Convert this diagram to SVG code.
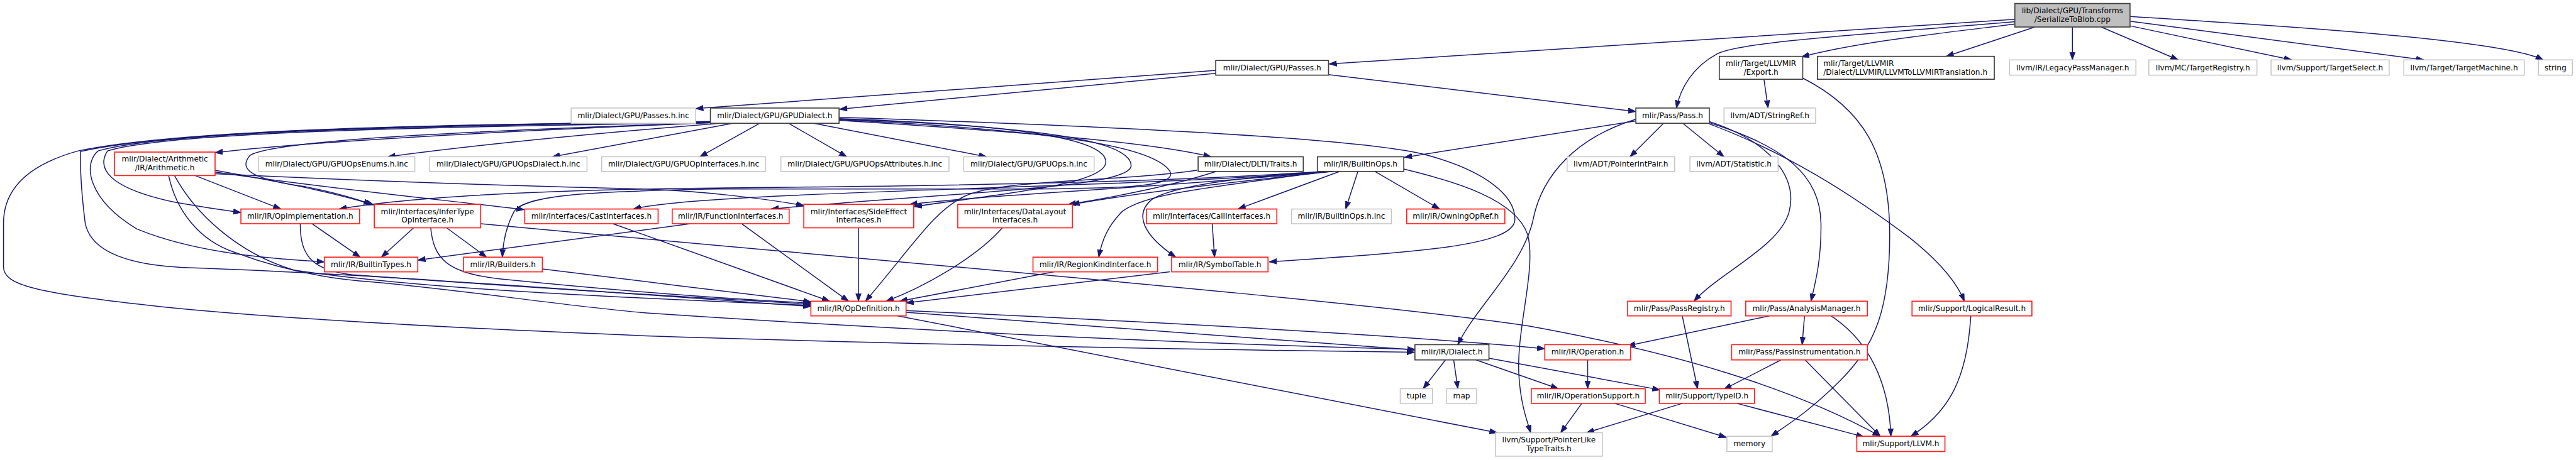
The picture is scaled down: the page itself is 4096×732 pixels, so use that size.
<svg xmlns="http://www.w3.org/2000/svg" width="4096" height="732" viewBox="0 0 4096 732">
<defs>
<style>
.n rect{fill:#fff;stroke-width:1.8}
.gy rect{stroke:#c4c4c4;stroke-width:1.6}
.rd rect{stroke:#ff2020}
.bk rect{stroke:#404040}
.rt rect{fill:#bfbfbf;stroke:#404040}
.n text{font-family:'DejaVu Sans',sans-serif;font-size:13px;text-anchor:middle;fill:#000}
.n text.l{text-anchor:start}
#edges path{fill:none;stroke:#191970;stroke-width:1.6;marker-end:url(#ah)}
</style>
<marker id="ah" markerUnits="userSpaceOnUse" markerWidth="14" markerHeight="11" refX="13" refY="5" orient="auto">
<path d="M0,0.4 L13,5 L0,9.6 z" fill="#191970" stroke="#191970" stroke-width="1"/>
</marker>
</defs>
<rect width="4096" height="732" fill="#fff"/>
<g transform="scale(0.93431)">
<g id="edges">
<path d="M3429,33 L2262,109"/>
<path d="M3429,37 C3150,60 2960,72 2922,92 C2880,115 2860,150 2853,184"/>
<path d="M3429,41 C3300,57 3160,72 3066,97"/>
<path d="M3463,46 L3312,96"/>
<path d="M3527,46 L3527,102"/>
<path d="M3576,46 L3707,102"/>
<path d="M3625,44 L3900,102"/>
<path d="M3625,36 L4125,102"/>
<path d="M3625,28 C3900,45 4260,68 4328,102"/>
<path d="M2069,120 L1184,185"/>
<path d="M2069,125 L1429,186"/>
<path d="M2261,127 L2784,190"/>
<path d="M3002,135 L3009,184"/>
<path d="M3068,133 C3170,185 3216,260 3216,400 C3216,530 3190,590 3130,650 C3080,700 3040,725 3014,743"/>
<path d="M2784,206 L2390,268"/>
<path d="M2831,210 L2774,267"/>
<path d="M2864,210 L2934,267"/>
<path d="M2784,203 C2680,235 2625,300 2610,370 C2595,450 2510,525 2481,587"/>
<path d="M2909,207 C3010,240 3060,300 3045,360 C3030,420 2925,465 2883,513"/>
<path d="M2909,209 C3040,250 3098,300 3099,380 C3100,440 3090,480 3082,513"/>
<path d="M2909,211 C3040,260 3150,330 3250,405 C3300,445 3330,480 3343,513"/>
<path d="M1209,209 C900,222 560,238 366,260"/>
<path d="M1225,210 C1000,228 800,248 660,267"/>
<path d="M1247,210 L940,267"/>
<path d="M1293,210 L1191,267"/>
<path d="M1342,210 L1441,267"/>
<path d="M1385,210 L1679,267"/>
<path d="M1428,205 C1700,222 1950,240 2061,267"/>
<path d="M1428,200 C1900,215 2300,235 2420,262 C2530,290 2580,335 2578,375 C2575,420 2400,430 2160,446"/>
<path d="M1428,202 C1720,212 1880,235 1882,275 C1884,315 1700,330 1556,352"/>
<path d="M1428,203 C1770,215 1925,240 1925,282 C1925,322 1600,328 1312,356"/>
<path d="M1428,204 C1800,222 1960,250 1990,290 C2010,320 1900,322 1700,322 L1220,322 C1000,326 895,332 875,360 C862,385 856,410 855,438"/>
<path d="M1209,207 C700,212 300,222 133,257 C50,280 6,320 6,380 L6,455 C6,485 60,500 281,523 C500,545 800,560 1100,572 C1500,585 2000,595 2407,600"/>
<path d="M1209,207 C700,213 300,222 137,258 C136,300 140,340 145,380 C155,430 220,452 320,456 C600,465 1000,495 1380,522"/>
<path d="M1209,208 C700,214 280,224 167,257 C140,280 150,340 233,390 C330,430 450,440 552,446"/>
<path d="M1209,209 C700,216 280,226 183,257 C165,285 180,320 300,345 C340,352 380,358 410,362"/>
<path d="M1209,209 C900,220 470,235 425,265 C405,290 430,305 520,318 C570,328 610,340 632,348"/>
<path d="M332,299 L478,356"/>
<path d="M366,290 C450,305 560,325 636,349"/>
<path d="M366,293 C550,320 750,340 892,357"/>
<path d="M366,296 C700,312 1000,320 1100,322 C1200,326 1300,338 1368,350"/>
<path d="M287,299 C300,360 340,410 400,430 C480,460 560,475 631,480 C800,495 950,520 1100,533 C1500,560 2000,585 2408,595"/>
<path d="M297,299 C330,360 400,430 500,460 C700,490 1000,505 1380,520"/>
<path d="M511,381 C511,430 525,460 600,468 C900,490 1150,505 1380,518"/>
<path d="M531,381 L613,438"/>
<path d="M704,388 L649,438"/>
<path d="M733,388 C738,440 760,465 850,475 C1050,495 1250,510 1380,516"/>
<path d="M760,388 L828,438"/>
<path d="M818,381 C1500,445 2300,510 2600,555 C2850,600 3050,660 3200,743"/>
<path d="M1043,381 L1412,513"/>
<path d="M1175,381 L711,443"/>
<path d="M1262,381 L1444,513"/>
<path d="M1461,388 L1461,513"/>
<path d="M1706,388 C1660,440 1570,490 1508,513"/>
<path d="M2070,292 C1990,318 1900,335 1818,348"/>
<path d="M2037,290 C1900,310 1700,305 1640,335 C1590,360 1560,410 1473,513"/>
<path d="M2280,292 L2107,356"/>
<path d="M2311,292 L2290,356"/>
<path d="M2340,292 L2450,356"/>
<path d="M2262,291 C1900,318 1300,318 1100,322 C900,326 700,335 577,356"/>
<path d="M2264,292 C1900,322 1200,325 1078,356"/>
<path d="M2266,292 C1900,325 1700,330 1548,348"/>
<path d="M2268,292 C2000,320 1900,335 1824,348"/>
<path d="M2258,292 C2050,320 1950,330 1910,360 C1885,385 1875,410 1870,438"/>
<path d="M2270,292 C2100,300 1990,320 1960,340 C1930,365 1945,400 2001,438"/>
<path d="M2389,288 C2480,310 2580,340 2600,400 C2615,460 2580,560 2585,640 C2588,690 2600,720 2605,737"/>
<path d="M2063,381 L2067,438"/>
<path d="M1794,463 L1531,513"/>
<path d="M1991,463 L1542,516"/>
<path d="M923,458 C1050,475 1250,497 1380,514"/>
<path d="M1542,529 C2000,550 2400,572 2629,594"/>
<path d="M1542,532 C2000,568 2250,585 2408,596"/>
<path d="M1528,538 L2548,737"/>
<path d="M2460,613 L2422,662"/>
<path d="M2474,613 L2481,662"/>
<path d="M2512,613 L2652,662"/>
<path d="M2534,610 L2825,664"/>
<path d="M2702,613 L2702,662"/>
<path d="M2692,687 L2656,737"/>
<path d="M2748,687 L2938,745"/>
<path d="M2863,687 L2700,737"/>
<path d="M2956,687 L3172,744"/>
<path d="M2863,538 L2889,662"/>
<path d="M3011,538 L2770,589"/>
<path d="M3071,538 L3067,587"/>
<path d="M3116,538 C3180,580 3215,650 3218,743"/>
<path d="M3031,613 L2934,663"/>
<path d="M3072,613 L3200,743"/>
<path d="M3354,538 C3348,640 3320,700 3252,743"/>
</g>
<g id="root" class="n rt"><rect x="3429" y="6" width="196" height="40"/><text x="3527" y="22.5">lib/Dialect/GPU/Transforms</text><text x="3527" y="37">/SerializeToBlob.cpp</text></g>
<g id="passes" class="n bk"><rect x="2069" y="103" width="192" height="25"/><text x="2165" y="120">mlir/Dialect/GPU/Passes.h</text></g>
<g id="export" class="n bk"><rect x="2926" y="96" width="142" height="39"/><text x="2997" y="112.5">mlir/Target/LLVMIR</text><text x="2997" y="127">/Export.h</text></g>
<g id="llvmtr" class="n bk"><rect x="3093" y="96" width="301" height="39"/><text class="l" x="3103" y="112.5">mlir/Target/LLVMIR</text><text class="l" x="3103" y="127">/Dialect/LLVMIR/LLVMToLLVMIRTranslation.h</text></g>
<g id="legacy" class="n gy"><rect x="3420" y="102" width="215" height="26"/><text x="3527.5" y="119.5">llvm/IR/LegacyPassManager.h</text></g>
<g id="treg" class="n gy"><rect x="3657" y="102" width="184" height="26"/><text x="3749" y="119.5">llvm/MC/TargetRegistry.h</text></g>
<g id="tsel" class="n gy"><rect x="3865" y="102" width="201" height="26"/><text x="3965.5" y="119.5">llvm/Support/TargetSelect.h</text></g>
<g id="tmach" class="n gy"><rect x="4091" y="102" width="205" height="26"/><text x="4193.5" y="119.5">llvm/Target/TargetMachine.h</text></g>
<g id="string" class="n gy"><rect x="4320" y="102" width="58" height="26"/><text x="4349" y="119.5">string</text></g>
<g id="passesinc" class="n gy"><rect x="972" y="184" width="212" height="26"/><text x="1078" y="201.5">mlir/Dialect/GPU/Passes.h.inc</text></g>
<g id="gpudialect" class="n bk"><rect x="1209" y="184" width="219" height="26"/><text x="1318.5" y="201.5">mlir/Dialect/GPU/GPUDialect.h</text></g>
<g id="pass" class="n bk"><rect x="2784" y="184" width="125" height="26"/><text x="2846.5" y="201.5">mlir/Pass/Pass.h</text></g>
<g id="stringref" class="n gy"><rect x="2934" y="184" width="156" height="26"/><text x="3012" y="201.5">llvm/ADT/StringRef.h</text></g>
<g id="arith" class="n rd"><rect x="195" y="259" width="171" height="40"/><text x="280.5" y="275.5">mlir/Dialect/Arithmetic</text><text x="280.5" y="290">/IR/Arithmetic.h</text></g>
<g id="enums" class="n gy"><rect x="440" y="267" width="266" height="25"/><text x="573" y="283.5">mlir/Dialect/GPU/GPUOpsEnums.h.inc</text></g>
<g id="opsdialect" class="n gy"><rect x="731" y="267" width="268" height="25"/><text x="865" y="283.5">mlir/Dialect/GPU/GPUOpsDialect.h.inc</text></g>
<g id="opinterfaces" class="n gy"><rect x="1024" y="267" width="279" height="25"/><text x="1163.5" y="283.5">mlir/Dialect/GPU/GPUOpInterfaces.h.inc</text></g>
<g id="opsattr" class="n gy"><rect x="1329" y="267" width="286" height="25"/><text x="1472" y="283.5">mlir/Dialect/GPU/GPUOpsAttributes.h.inc</text></g>
<g id="opsinc" class="n gy"><rect x="1640" y="267" width="222" height="25"/><text x="1751" y="283.5">mlir/Dialect/GPU/GPUOps.h.inc</text></g>
<g id="dlti" class="n bk"><rect x="2039" y="267" width="179" height="25"/><text x="2128.5" y="283.5">mlir/Dialect/DLTI/Traits.h</text></g>
<g id="builtinops" class="n bk"><rect x="2242" y="267" width="147" height="25"/><text x="2315.5" y="283.5">mlir/IR/BuiltinOps.h</text></g>
<g id="ptrintpair" class="n gy"><rect x="2667" y="267" width="183" height="25"/><text x="2758.5" y="283.5">llvm/ADT/PointerIntPair.h</text></g>
<g id="statistic" class="n gy"><rect x="2876" y="267" width="150" height="25"/><text x="2951" y="283.5">llvm/ADT/Statistic.h</text></g>
<g id="opimpl" class="n rd"><rect x="410" y="356" width="202" height="25"/><text x="511" y="372.5">mlir/IR/OpImplementation.h</text></g>
<g id="infertype" class="n rd"><rect x="637" y="348" width="181" height="40"/><text x="727.5" y="364.5">mlir/Interfaces/InferType</text><text x="727.5" y="379">OpInterface.h</text></g>
<g id="cast" class="n rd"><rect x="893" y="356" width="227" height="25"/><text x="1006.5" y="372.5">mlir/Interfaces/CastInterfaces.h</text></g>
<g id="funcif" class="n rd"><rect x="1144" y="356" width="199" height="25"/><text x="1243.5" y="372.5">mlir/IR/FunctionInterfaces.h</text></g>
<g id="sideeffect" class="n rd"><rect x="1368" y="348" width="187" height="40"/><text x="1461.5" y="364.5">mlir/Interfaces/SideEffect</text><text x="1461.5" y="379">Interfaces.h</text></g>
<g id="datalayout" class="n rd"><rect x="1630" y="348" width="195" height="40"/><text x="1727.5" y="364.5">mlir/Interfaces/DataLayout</text><text x="1727.5" y="379">Interfaces.h</text></g>
<g id="callif" class="n rd"><rect x="1951" y="356" width="222" height="25"/><text x="2062" y="372.5">mlir/Interfaces/CallInterfaces.h</text></g>
<g id="builtinopsinc" class="n gy"><rect x="2198" y="356" width="170" height="25"/><text x="2283" y="372.5">mlir/IR/BuiltinOps.h.inc</text></g>
<g id="owning" class="n rd"><rect x="2394" y="356" width="167" height="25"/><text x="2477.5" y="372.5">mlir/IR/OwningOpRef.h</text></g>
<g id="builtintypes" class="n rd"><rect x="552" y="438" width="159" height="25"/><text x="631.5" y="454.5">mlir/IR/BuiltinTypes.h</text></g>
<g id="builders" class="n rd"><rect x="789" y="438" width="134" height="25"/><text x="856" y="454.5">mlir/IR/Builders.h</text></g>
<g id="regionkind" class="n rd"><rect x="1758" y="438" width="212" height="25"/><text x="1864" y="454.5">mlir/IR/RegionKindInterface.h</text></g>
<g id="symtab" class="n rd"><rect x="1994" y="438" width="164" height="25"/><text x="2076" y="454.5">mlir/IR/SymbolTable.h</text></g>
<g id="opdef" class="n rd"><rect x="1380" y="513" width="162" height="25"/><text x="1461" y="529.5">mlir/IR/OpDefinition.h</text></g>
<g id="passreg" class="n rd"><rect x="2770" y="513" width="176" height="25"/><text x="2858" y="529.5">mlir/Pass/PassRegistry.h</text></g>
<g id="analysis" class="n rd"><rect x="2971" y="513" width="207" height="25"/><text x="3074.5" y="529.5">mlir/Pass/AnalysisManager.h</text></g>
<g id="logical" class="n rd"><rect x="3254" y="513" width="204" height="25"/><text x="3356" y="529.5">mlir/Support/LogicalResult.h</text></g>
<g id="dialect" class="n bk"><rect x="2408" y="587" width="126" height="26"/><text x="2471" y="604">mlir/IR/Dialect.h</text></g>
<g id="operation" class="n rd"><rect x="2629" y="587" width="146" height="26"/><text x="2702" y="604">mlir/IR/Operation.h</text></g>
<g id="passinstr" class="n rd"><rect x="2947" y="587" width="231" height="26"/><text x="3062.5" y="604">mlir/Pass/PassInstrumentation.h</text></g>
<g id="tuple" class="n gy"><rect x="2383" y="662" width="55" height="25"/><text x="2410.5" y="678.5">tuple</text></g>
<g id="map" class="n gy"><rect x="2462" y="662" width="51" height="25"/><text x="2487.5" y="678.5">map</text></g>
<g id="opsupport" class="n rd"><rect x="2606" y="662" width="194" height="25"/><text x="2703" y="678.5">mlir/IR/OperationSupport.h</text></g>
<g id="typeid" class="n rd"><rect x="2824" y="662" width="162" height="25"/><text x="2905" y="678.5">mlir/Support/TypeID.h</text></g>
<g id="ptrlike" class="n gy"><rect x="2545" y="737" width="182" height="40"/><text x="2636" y="753.5">llvm/Support/PointerLike</text><text x="2636" y="768">TypeTraits.h</text></g>
<g id="memory" class="n gy"><rect x="2939" y="743" width="77" height="26"/><text x="2977.5" y="760">memory</text></g>
<g id="llvmh" class="n rd"><rect x="3160" y="743" width="150" height="26"/><text x="3235" y="760">mlir/Support/LLVM.h</text></g>
</g>
</svg>
